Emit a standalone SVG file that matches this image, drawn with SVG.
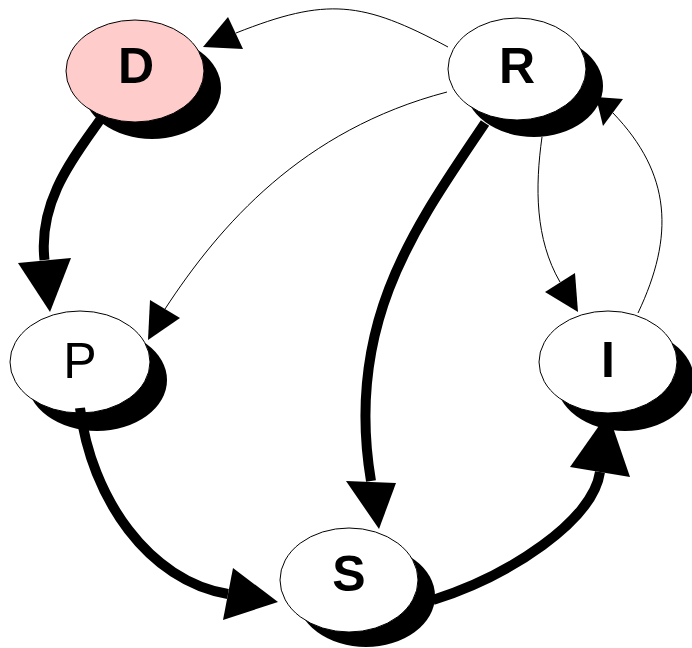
<svg xmlns="http://www.w3.org/2000/svg" width="692" height="648" viewBox="0 0 692 648">
<style>
.shadow{fill:#000;stroke:none}
.node{fill:#fff;stroke:#000;stroke-width:1}
.label{font-family:"Liberation Sans",Arial,sans-serif;font-size:50px;text-anchor:middle;fill:#000}
.b{font-weight:bold}
.thin{fill:none;stroke:#000;stroke-width:1}
.thick{fill:none;stroke:#000;stroke-width:10}
.head{fill:#000;stroke:none}
</style>
<rect width="692" height="648" fill="#fff"/>
<g id="node-D">
<ellipse class="shadow" cx="152" cy="88" rx="69" ry="51"/>
<ellipse class="node" cx="135" cy="71" rx="69" ry="51" style="fill:#ffcccc"/>
<text class="label b" x="136" y="83">D</text>
</g>
<g id="node-R">
<ellipse class="shadow" cx="534" cy="86" rx="69" ry="51"/>
<ellipse class="node" cx="517" cy="69" rx="69" ry="51"/>
<text class="label b" x="517" y="83">R</text>
</g>
<g id="node-P">
<ellipse class="shadow" cx="97" cy="380" rx="70" ry="51"/>
<ellipse class="node" cx="80" cy="362" rx="70" ry="51"/>
<text class="label" x="80" y="378">P</text>
</g>
<g id="node-I">
<ellipse class="shadow" cx="625" cy="380" rx="69" ry="51"/>
<ellipse class="node" cx="608" cy="362" rx="69" ry="51"/>
<text class="label b" x="608" y="377">I</text>
</g>
<g id="node-S">
<ellipse class="shadow" cx="366" cy="596" rx="69" ry="51"/>
<ellipse class="node" cx="349" cy="580" rx="69" ry="52"/>
<text class="label b" x="349" y="591">S</text>
</g>
<g id="connectors">
<path class="thin" d="M448,47 C362,1 327,-3 236,33"/>
<polygon class="head" points="203,47 228,17 243,49"/>
<path class="thin" d="M447,92 C302,130 220,225 165,309"/>
<polygon class="head" points="150,300 180,318 148,340"/>
<path class="thick" d="M485,123 C418,223 344,321 371,481"/>
<polygon class="head" points="346,481 396,483 379,529"/>
<path class="thin" d="M542,137 C535,187 535,239 560,282"/>
<polygon class="head" points="545,292 575,273 578,312"/>
<path class="thin" d="M638,313 C674.5,236 671.7,174 613,113"/>
<polygon class="head" points="596,97 623,99 603,126"/>
<path class="thick" d="M100,120 C74,157 38,201 44.5,260"/>
<polygon class="head" points="18,263 71,258 50,312"/>
<path class="thick" d="M80,408 C91,498 149,581 228,594"/>
<polygon class="head" points="233,568 223,620 278,602"/>
<path class="thick" d="M433,600 C509,576 593,521 600,472"/>
<polygon class="head" points="570,467 630,477 608,413"/>
</g>
</svg>
